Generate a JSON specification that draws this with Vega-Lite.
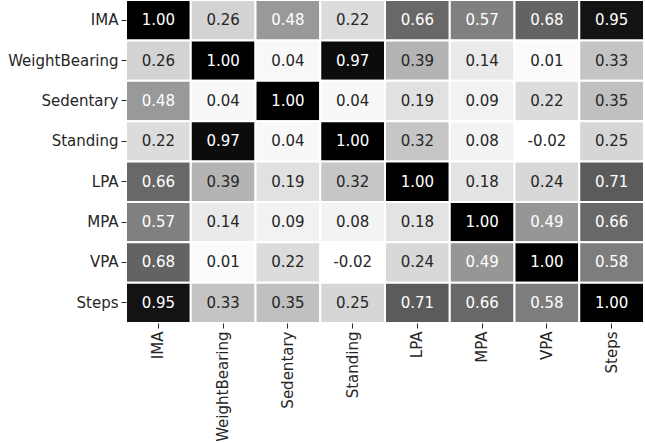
{
  "$schema": "https://vega.github.io/schema/vega-lite/v6.json",
  "width": 518,
  "height": 323,
  "autosize": "none",
  "padding": {"left": 126, "top": 0, "right": 1, "bottom": 120},
  "background": "white",
  "config": {
    "view": {"stroke": null},
    "font": "DejaVu Sans",
    "axis": {"labelFont": "DejaVu Sans", "labelFontSize": 15, "labelColor": "#262626", "tickColor": "#262626", "tickSize": 5, "tickWidth": 1, "domain": false, "labelPadding": 3, "title": null}
  },
  "data": {
    "values": [
      {"r":"IMA","c":"IMA","v":1.00},{"r":"IMA","c":"WeightBearing","v":0.26},{"r":"IMA","c":"Sedentary","v":0.48},{"r":"IMA","c":"Standing","v":0.22},{"r":"IMA","c":"LPA","v":0.66},{"r":"IMA","c":"MPA","v":0.57},{"r":"IMA","c":"VPA","v":0.68},{"r":"IMA","c":"Steps","v":0.95},
      {"r":"WeightBearing","c":"IMA","v":0.26},{"r":"WeightBearing","c":"WeightBearing","v":1.00},{"r":"WeightBearing","c":"Sedentary","v":0.04},{"r":"WeightBearing","c":"Standing","v":0.97},{"r":"WeightBearing","c":"LPA","v":0.39},{"r":"WeightBearing","c":"MPA","v":0.14},{"r":"WeightBearing","c":"VPA","v":0.01},{"r":"WeightBearing","c":"Steps","v":0.33},
      {"r":"Sedentary","c":"IMA","v":0.48},{"r":"Sedentary","c":"WeightBearing","v":0.04},{"r":"Sedentary","c":"Sedentary","v":1.00},{"r":"Sedentary","c":"Standing","v":0.04},{"r":"Sedentary","c":"LPA","v":0.19},{"r":"Sedentary","c":"MPA","v":0.09},{"r":"Sedentary","c":"VPA","v":0.22},{"r":"Sedentary","c":"Steps","v":0.35},
      {"r":"Standing","c":"IMA","v":0.22},{"r":"Standing","c":"WeightBearing","v":0.97},{"r":"Standing","c":"Sedentary","v":0.04},{"r":"Standing","c":"Standing","v":1.00},{"r":"Standing","c":"LPA","v":0.32},{"r":"Standing","c":"MPA","v":0.08},{"r":"Standing","c":"VPA","v":-0.02},{"r":"Standing","c":"Steps","v":0.25},
      {"r":"LPA","c":"IMA","v":0.66},{"r":"LPA","c":"WeightBearing","v":0.39},{"r":"LPA","c":"Sedentary","v":0.19},{"r":"LPA","c":"Standing","v":0.32},{"r":"LPA","c":"LPA","v":1.00},{"r":"LPA","c":"MPA","v":0.18},{"r":"LPA","c":"VPA","v":0.24},{"r":"LPA","c":"Steps","v":0.71},
      {"r":"MPA","c":"IMA","v":0.57},{"r":"MPA","c":"WeightBearing","v":0.14},{"r":"MPA","c":"Sedentary","v":0.09},{"r":"MPA","c":"Standing","v":0.08},{"r":"MPA","c":"LPA","v":0.18},{"r":"MPA","c":"MPA","v":1.00},{"r":"MPA","c":"VPA","v":0.49},{"r":"MPA","c":"Steps","v":0.66},
      {"r":"VPA","c":"IMA","v":0.68},{"r":"VPA","c":"WeightBearing","v":0.01},{"r":"VPA","c":"Sedentary","v":0.22},{"r":"VPA","c":"Standing","v":-0.02},{"r":"VPA","c":"LPA","v":0.24},{"r":"VPA","c":"MPA","v":0.49},{"r":"VPA","c":"VPA","v":1.00},{"r":"VPA","c":"Steps","v":0.58},
      {"r":"Steps","c":"IMA","v":0.95},{"r":"Steps","c":"WeightBearing","v":0.33},{"r":"Steps","c":"Sedentary","v":0.35},{"r":"Steps","c":"Standing","v":0.25},{"r":"Steps","c":"LPA","v":0.71},{"r":"Steps","c":"MPA","v":0.66},{"r":"Steps","c":"VPA","v":0.58},{"r":"Steps","c":"Steps","v":1.00}
    ]
  },
  "encoding": {
    "x": {"field": "c", "type": "nominal", "sort": ["IMA","WeightBearing","Sedentary","Standing","LPA","MPA","VPA","Steps"], "axis": {"orient": "bottom", "labelAngle": -90}},
    "y": {"field": "r", "type": "nominal", "sort": ["IMA","WeightBearing","Sedentary","Standing","LPA","MPA","VPA","Steps"], "axis": {"orient": "left", "labelAngle": 0}}
  },
  "layer": [
    {
      "mark": {"type": "rect", "stroke": "white", "strokeWidth": 2},
      "encoding": {
        "color": {"field": "v", "type": "quantitative", "scale": {"domain": [-0.02, 1], "range": ["#ffffff","#f0f0f0","#d9d9d9","#bdbdbd","#969696","#737373","#525252","#252525","#000000"]}, "legend": null}
      }
    },
    {
      "transform": [{"calculate": "replace(format(datum.v, '.2f'), '\u2212', '-')", "as": "lbl"}],
      "mark": {"type": "text", "fontSize": 15, "font": "DejaVu Sans"},
      "encoding": {
        "text": {"field": "lbl", "type": "nominal"},
        "color": {"condition": {"test": "datum.v > 0.45", "value": "#ffffff"}, "value": "#262626"}
      }
    }
  ]
}
